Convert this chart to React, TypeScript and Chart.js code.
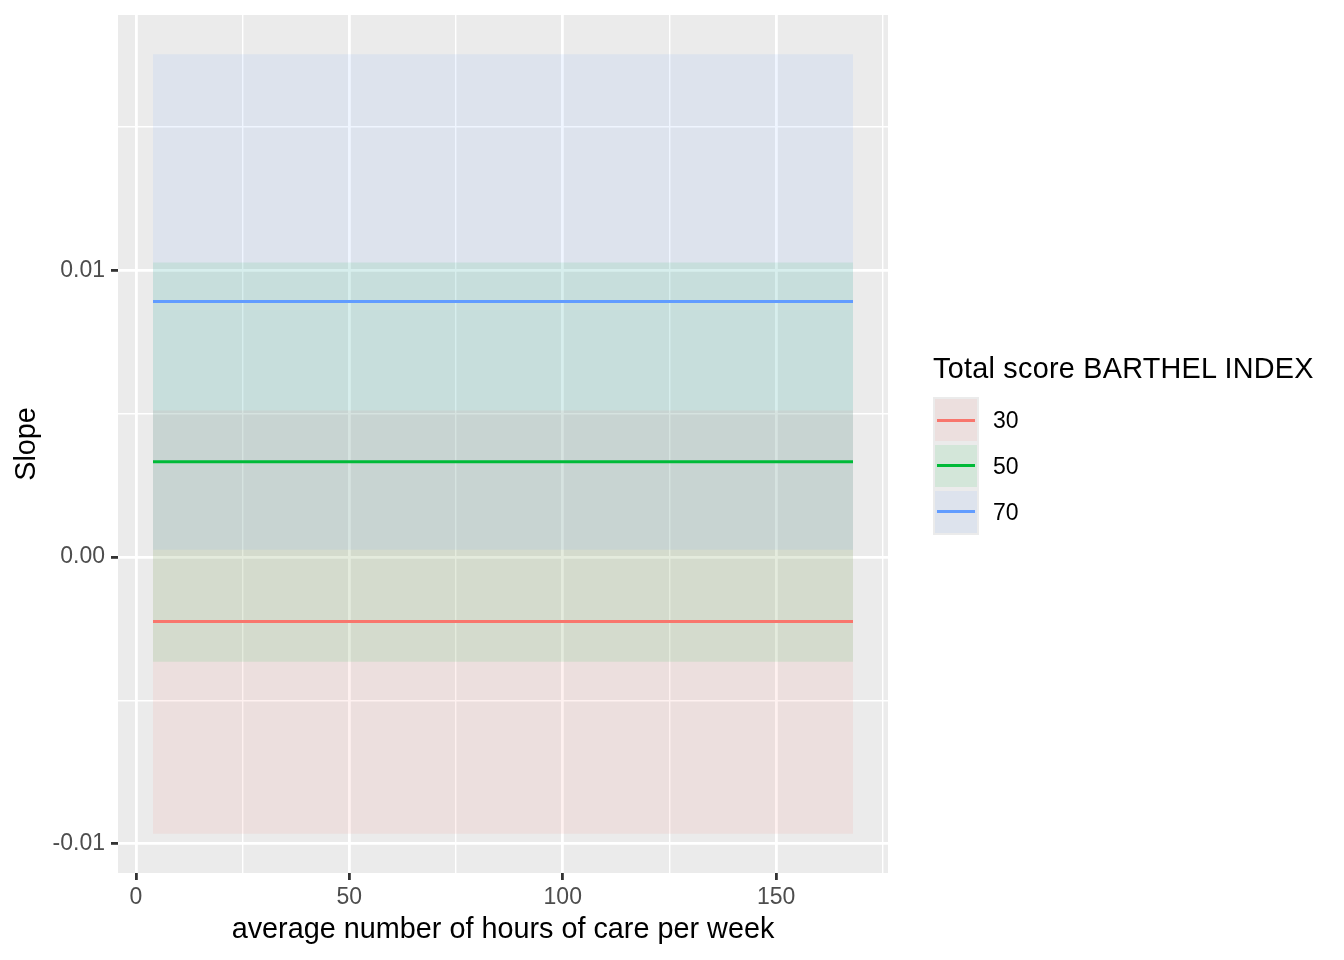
import { useEffect, useRef } from "react";
import { Chart, ChartConfiguration, registerables } from "chart.js";

Chart.register(...registerables);

const FONT = "'Liberation Sans', Arial, Helvetica, sans-serif";

// Barthel index groups
const groups = ["30", "50", "70"];
const lineColors = ["#F8766D", "#00BA38", "#619CFF"];
const ribbonColors = ["rgba(248,118,109,0.1)", "rgba(0,186,56,0.1)", "rgba(97,156,255,0.1)"];

// hours of care per week
const hours = [4, 168];

// slope estimates and confidence bounds per group
const slope30 = [-0.00225, -0.00225];
const lower30 = [-0.00965, -0.00965];
const upper30 = [0.00511, 0.00511];

const slope50 = [0.00333, 0.00333];
const lower50 = [-0.00365, -0.00365];
const upper50 = [0.01028, 0.01028];

const slope70 = [0.00892, 0.00892];
const lower70 = [0.00026, 0.00026];
const upper70 = [0.01754, 0.01754];

// ticks
const xMajorTicks = [0, 50, 100, 150];
const xMinorTicks = [25, 75, 125, 175];
const yMajorTicks = [-0.01, 0, 0.01];
const yMinorTicks = [-0.005, 0.005, 0.015];
const yTickLabels = ["-0.01", "0.00", "0.01"];

const isIn = (list: number[], v: number) => list.some((m) => Math.abs(m - v) < 1e-9);

const toPoints = (ys: number[]) => hours.map((x, i) => ({ x, y: ys[i] }));

const panelBackground = {
  id: "panelBackground",
  beforeDraw(chart: Chart) {
    const { ctx, chartArea } = chart;
    ctx.save();
    ctx.fillStyle = "#EBEBEB";
    ctx.fillRect(chartArea.left, chartArea.top, chartArea.width, chartArea.height);
    ctx.restore();
  },
};

function SlopeChart() {
  const canvasRef = useRef<HTMLCanvasElement>(null);
  const chartRef = useRef<Chart | null>(null);

  useEffect(() => {
    if (!canvasRef.current) return;
    const ctx = canvasRef.current.getContext("2d");
    if (!ctx) return;
    if (chartRef.current) chartRef.current.destroy();

    const series = [
      { slope: slope30, lower: lower30, upper: upper30 },
      { slope: slope50, lower: lower50, upper: upper50 },
      { slope: slope70, lower: lower70, upper: upper70 },
    ];

    const ribbonSets: any[] = [];
    series.forEach((s, i) => {
      ribbonSets.push({
        label: `lower ${groups[i]}`,
        data: toPoints(s.lower),
        borderWidth: 0,
        pointRadius: 0,
        fill: false,
        order: 30 - i * 10,
      });
      ribbonSets.push({
        label: `upper ${groups[i]}`,
        data: toPoints(s.upper),
        borderWidth: 0,
        pointRadius: 0,
        backgroundColor: ribbonColors[i],
        fill: { target: i * 2 },
        order: 30 - i * 10,
      });
    });
    const lineSets = series.map((s, i) => ({
      label: groups[i],
      data: toPoints(s.slope),
      borderColor: lineColors[i],
      borderWidth: 3,
      pointRadius: 0,
      fill: false,
      order: 3 - i,
    }));

    const config: ChartConfiguration = {
      type: "line",
      data: { datasets: [...ribbonSets, ...lineSets] },
      options: {
        responsive: true,
        maintainAspectRatio: false,
        animation: false,
        layout: { padding: { left: 0, top: 15, right: 456, bottom: 0 } },
        scales: {
          x: {
            type: "linear",
            min: -4.2,
            max: 176.2,
            afterBuildTicks: (axis: any) => {
              axis.ticks = [...xMajorTicks, ...xMinorTicks].sort((a, b) => a - b).map((value) => ({ value }));
            },
            afterFit: (axis: any) => {
              axis.height = 87;
              axis.paddingLeft = 0;
              axis.paddingRight = 0;
            },
            border: { display: false },
            grid: {
              color: "#FFFFFF",
              lineWidth: (c: any) => (c.tick && isIn(xMajorTicks, c.tick.value) ? 2.8 : 1.4),
              tickLength: 7,
              tickWidth: 2.8,
              tickColor: (c: any) => (c.tick && isIn(xMajorTicks, c.tick.value) ? "#333333" : "rgba(0,0,0,0)"),
            },
            ticks: {
              autoSkip: false,
              maxRotation: 0,
              padding: 3.5,
              color: "#4D4D4D",
              font: { family: FONT, size: 23 },
              callback: (value: any) => (isIn(xMajorTicks, Number(value)) ? String(value) : ""),
            },
            title: {
              display: true,
              text: "average number of hours of care per week",
              color: "#000000",
              font: { family: FONT, size: 28.8 },
              padding: { top: 0, bottom: 13 },
            },
          },
          y: {
            type: "linear",
            min: -0.01102,
            max: 0.01891,
            afterBuildTicks: (axis: any) => {
              axis.ticks = [...yMajorTicks, ...yMinorTicks].sort((a, b) => a - b).map((value) => ({ value }));
            },
            afterFit: (axis: any) => {
              axis.width = 118;
              axis.paddingTop = 0;
              axis.paddingBottom = 0;
            },
            border: { display: false },
            grid: {
              color: "#FFFFFF",
              lineWidth: (c: any) => (c.tick && isIn(yMajorTicks, c.tick.value) ? 2.8 : 1.4),
              tickLength: 7,
              tickWidth: 2.8,
              tickColor: (c: any) => (c.tick && isIn(yMajorTicks, c.tick.value) ? "#333333" : "rgba(0,0,0,0)"),
            },
            ticks: {
              autoSkip: false,
              padding: 6,
              color: "#4D4D4D",
              font: { family: FONT, size: 23 },
              callback: (value: any) => {
                const idx = yMajorTicks.findIndex((m) => Math.abs(m - Number(value)) < 1e-9);
                return idx >= 0 ? yTickLabels[idx] : "";
              },
            },
            title: {
              display: true,
              text: "Slope",
              color: "#000000",
              font: { family: FONT, size: 28.8 },
              padding: { top: 10, bottom: 0 },
            },
          },
        },
        plugins: {
          legend: { display: false },
          tooltip: { enabled: false },
        },
      },
      plugins: [panelBackground],
    };

    chartRef.current = new Chart(ctx, config);

    return () => {
      if (chartRef.current) {
        chartRef.current.destroy();
        chartRef.current = null;
      }
    };
  }, []);

  return <canvas ref={canvasRef}></canvas>;
}

function Legend() {
  return (
    <div style={{ position: "absolute", left: 933, top: 354, fontFamily: FONT, color: "#000" }}>
      <div
        style={{
          fontSize: 28.8,
          lineHeight: "28.8px",
          whiteSpace: "nowrap",
          letterSpacing: 0.25,
          marginBottom: 14.5,
        }}
      >
        Total score BARTHEL INDEX
      </div>
      {groups.map((g, i) => (
        <div key={g} style={{ display: "flex", alignItems: "center", height: 45.8 }}>
          <div style={{ position: "relative", width: 46, height: 45.8, background: "#EBEBEB" }}>
            <div style={{ position: "absolute", inset: 2, background: ribbonColors[i] }} />
            <div
              style={{
                position: "absolute",
                left: 4,
                right: 4,
                top: 21.4,
                height: 3,
                background: lineColors[i],
              }}
            />
          </div>
          <div style={{ marginLeft: 14, fontSize: 23, lineHeight: "23px", paddingTop: 1.5 }}>{g}</div>
        </div>
      ))}
    </div>
  );
}

export default function App() {
  return (
    <div style={{ position: "fixed", left: 0, top: 0, width: 1344, height: 960, background: "#FFFFFF" }}>
      <div style={{ position: "absolute", left: 0, top: 0, width: 1344, height: 960 }}>
        <SlopeChart />
      </div>
      <Legend />
    </div>
  );
}
